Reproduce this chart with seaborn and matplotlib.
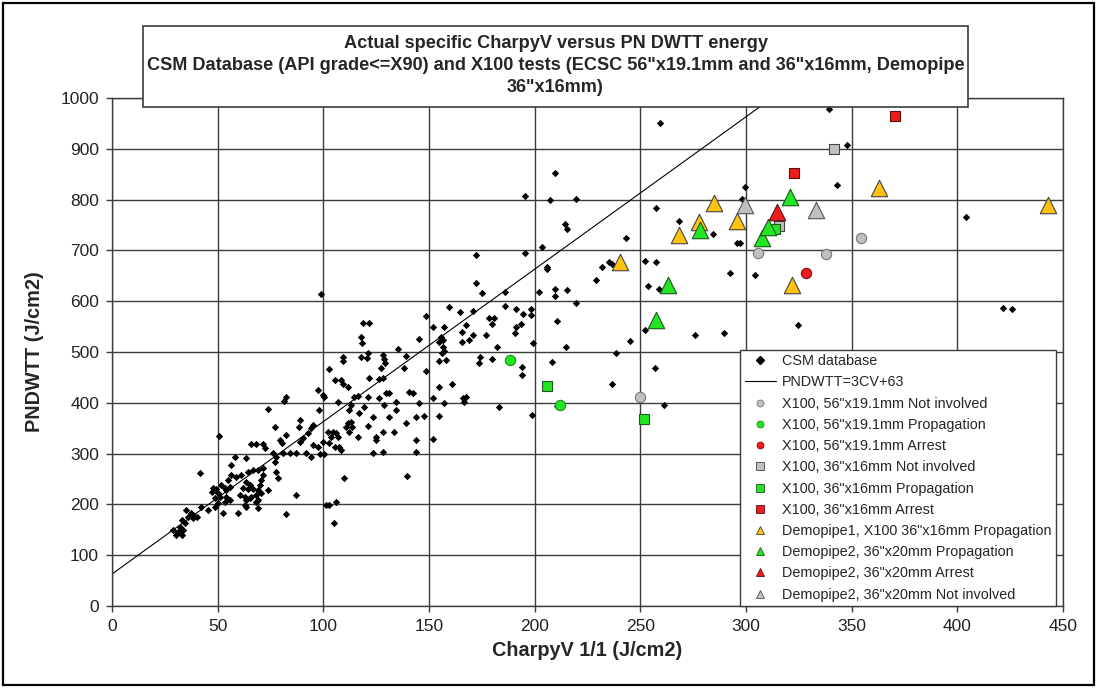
import matplotlib
matplotlib.use("Agg")
import matplotlib.pyplot as plt
from matplotlib.lines import Line2D
from matplotlib.patches import Rectangle
import numpy as np
import seaborn as sns

# CSM database: specific Charpy V energy (J/cm2) and PN DWTT energy (J/cm2)
csm_cv = [
    81.4, 73.8, 88.8, 77.0, 82.5, 92.7, 90.3, 88.8, 79.3, 80.6, 50.7, 66.0, 68.3, 71.4, 72.2,
    76.2, 77.7, 77.0, 80.9, 84.0, 87.2, 92.0, 63.6, 58.1, 56.5, 41.5, 56.5, 58.9, 61.2, 64.4,
    66.7, 69.1, 71.4, 71.4, 70.7, 69.9, 77.7, 78.5, 63.6, 65.1, 66.7, 69.1, 62.0, 64.4, 60.4,
    62.8, 66.0, 68.3, 70.7, 73.8, 54.9, 55.7, 54.1, 51.8, 53.3, 47.8, 49.4, 47.1, 50.2, 51.0,
    48.6, 50.2, 48.6, 54.1, 55.7, 53.3, 63.6, 65.1, 62.8, 63.6, 69.1, 68.3, 69.1, 59.6, 52.6,
    45.5, 42.3, 86.9, 82.1, 35.2, 37.6, 38.4, 36.0, 32.9, 34.5, 32.1, 33.7, 31.3, 30.5, 32.9,
    29.0, 38.4, 40.0, 101.3, 102.9, 105.8, 105.0, 110.0,
    99.0, 118.6, 121.5, 117.9, 118.3, 148.5, 145.4, 135.2, 117.9, 121.0, 120.5, 109.2, 109.5,
    128.1, 128.9, 129.4, 139.1, 138.3, 127.3, 148.5, 102.9, 105.3, 108.4, 109.2, 111.6, 121.8,
    126.5, 128.1, 97.4, 99.8, 100.5, 82.4, 114.7, 116.3, 121.0, 126.5, 129.7, 131.2, 140.4,
    142.3, 106.8, 113.1, 112.3, 119.4, 128.9, 134.4, 134.4, 145.4, 97.9, 117.1, 123.4, 131.2,
    111.6, 113.1, 110.8, 113.6, 112.3, 121.0, 116.3, 124.9, 124.9, 128.1, 133.6, 139.1, 143.8,
    147.8, 143.8, 143.8, 88.7, 95.0, 94.3, 95.0, 99.8, 97.4, 102.1, 104.5, 106.1, 106.8, 103.7,
    102.9, 105.3, 107.6, 108.4, 123.4, 128.1, 94.3, 98.2, 100.5,
    209.5, 195.5, 207.1, 214.2, 215.2, 203.4, 195.5, 172.2, 205.7, 206.0, 172.2, 175.3, 186.0,
    202.1, 209.5, 209.5, 215.5, 159.6, 164.8, 170.9, 186.0, 191.1, 194.7, 198.5, 198.5, 178.5,
    180.9, 179.8, 167.5, 165.6, 151.7, 157.2, 191.1, 193.4, 190.8, 210.8, 170.9, 177.2, 155.7,
    156.5, 154.9, 165.6, 169.0, 182.4, 199.4, 214.7, 156.5, 157.2, 156.1, 154.6, 158.0, 174.2,
    173.5, 179.8, 193.9, 193.9, 208.4, 154.9, 160.9, 151.7, 165.9, 167.5, 166.7, 157.2, 183.2,
    151.7, 139.4, 236.7, 238.3, 257.1, 261.1, 198.9, 154.9, 210.5,
    259.2, 219.7, 257.6, 243.3, 268.2, 284.4, 295.7, 297.3, 299.3, 298.1, 235.1, 236.4, 232.0,
    229.2, 252.4, 257.2, 253.5, 258.7, 292.6, 304.1, 219.7, 276.0, 289.4, 252.1, 244.9,
    339.4, 347.6, 343.2, 404.3, 324.8, 421.6, 425.8,
]
csm_pn = [
    403.5, 387.8, 366.0, 351.7, 336.6, 340.0, 330.0, 323.5, 326.8, 320.2, 334.6, 318.0, 318.0, 318.0, 310.4,
    300.5, 292.6, 284.0, 300.5, 300.5, 300.5, 300.5, 290.7, 292.6, 277.6, 262.5, 257.9, 254.6, 257.9, 264.4,
    267.7, 267.7, 271.0, 257.9, 248.0, 238.2, 264.4, 251.3, 244.7, 238.2, 229.6, 228.3, 231.6, 229.6, 218.5,
    215.2, 215.2, 218.5, 221.8, 228.3, 248.0, 234.9, 228.3, 238.2, 231.6, 231.6, 229.6, 225.0, 221.8, 215.2,
    212.0, 202.0, 195.5, 215.2, 208.7, 205.4, 208.7, 212.0, 198.8, 195.5, 208.7, 205.4, 192.2, 182.4, 182.4,
    189.0, 195.5, 218.5, 180.4, 189.0, 182.4, 172.5, 175.8, 169.3, 162.7, 156.2, 149.6, 146.3, 139.8, 139.8,
    149.6, 179.1, 175.8, 198.8, 198.8, 205.4, 162.8, 251.3,
    613.5, 557.7, 557.7, 528.8, 517.0, 570.8, 524.9, 505.9, 490.8, 498.7, 488.8, 490.8, 482.3,
    494.0, 485.5, 479.0, 492.1, 467.8, 467.8, 462.6, 465.8, 444.9, 444.9, 437.0, 431.7, 448.1,
    446.2, 448.1, 425.2, 415.3, 410.7, 412.0, 410.7, 413.3, 412.0, 408.8, 418.6, 418.6, 421.9,
    418.6, 402.2, 395.6, 385.8, 392.4, 395.6, 402.2, 385.8, 398.9, 385.8, 379.2, 372.7, 372.7,
    359.5, 362.8, 353.0, 353.0, 343.1, 354.3, 333.3, 333.3, 326.7, 343.1, 343.1, 359.5, 372.7,
    374.0, 326.7, 303.8, 353.0, 356.3, 349.7, 316.9, 323.5, 313.6, 343.1, 343.1, 339.9, 333.3, 333.3,
    320.2, 313.6, 313.6, 307.1, 300.5, 303.8, 293.9, 299.2, 299.2,
    851.7, 807.0, 799.2, 751.9, 741.4, 707.3, 695.5, 690.3, 668.0, 662.7, 635.1, 616.8, 617.4,
    617.4, 623.3, 610.9, 622.0, 589.2, 579.4, 581.3, 591.2, 583.9, 574.8, 583.9, 572.8, 566.2,
    566.2, 555.0, 553.1, 540.0, 548.5, 548.5, 549.8, 555.1, 536.7, 561.6, 533.4, 533.4, 530.1,
    523.6, 520.3, 520.3, 523.6, 510.5, 518.3, 510.5, 510.5, 501.9, 497.4, 482.3, 484.2, 490.8,
    477.7, 485.6, 471.1, 454.7, 480.9, 430.4, 437.0, 408.8, 408.8, 410.7, 402.2, 398.9, 392.4,
    328.1, 256.0, 437.0, 498.7, 467.9, 395.7, 376.0, 374.7, 394.5,
    950.1, 800.5, 782.8, 725.0, 757.8, 731.6, 713.9, 713.9, 825.4, 800.5, 677.8, 673.2, 666.6,
    641.7, 679.7, 677.7, 630.5, 624.0, 656.1, 651.5, 595.8, 533.4, 536.7, 543.3, 522.3,
    977.6, 907.4, 828.7, 766.4, 553.1, 585.9, 583.9,
]

# X100 full-scale burst tests
x100_56_none_cv = [249.8, 305.6, 337.9, 354.4]
x100_56_none_pn = [412.0, 694.2, 692.2, 725.0]
x100_56_prop_cv = [188.2, 212.2]
x100_56_prop_pn = [484.2, 394.7]
x100_56_arr_cv = [328.4]
x100_56_arr_pn = [656.1]
x100_36_none_cv = [341.8, 315.5]
x100_36_none_pn = [898.9, 748.0]
x100_36_prop_cv = [206.0, 251.6, 313.5]
x100_36_prop_pn = [432.4, 367.5, 742.0]
x100_36_arr_cv = [370.4, 322.9]
x100_36_arr_pn = [965.2, 851.7]
demo1_prop_cv = [240.6, 268.2, 277.6, 284.7, 295.7, 321.6, 363.0, 442.8]
demo1_prop_pn = [677.8, 730.3, 756.5, 792.6, 758.5, 631.9, 822.1, 789.3]
demo2_prop_cv = [257.2, 263.1, 278.0, 307.8, 310.6, 320.9]
demo2_prop_pn = [563.0, 631.9, 740.1, 725.0, 746.7, 805.7]
demo2_arr_cv = [314.6]
demo2_arr_pn = [776.2]
demo2_none_cv = [299.6, 333.1]
demo2_none_pn = [789.3, 779.5]

# correlation line PNDWTT = 3 CV + 63
line_slope = 3.0
line_intercept = 63.0

x_ticks = list(range(0, 451, 50))
y_ticks = list(range(0, 1001, 100))

title_lines = [
    "Actual specific CharpyV versus PN DWTT energy",
    'CSM Database (API grade<=X90) and X100 tests (ECSC 56"x19.1mm and 36"x16mm, Demopipe',
    '36"x16mm)',
]
legend_labels = [
    "CSM database",
    "PNDWTT=3CV+63",
    'X100, 56"x19.1mm Not involved',
    'X100, 56"x19.1mm Propagation',
    'X100, 56"x19.1mm Arrest',
    'X100, 36"x16mm Not involved',
    'X100, 36"x16mm Propagation',
    'X100, 36"x16mm Arrest',
    'Demopipe1, X100 36"x16mm Propagation',
    'Demopipe2, 36"x20mm Propagation',
    'Demopipe2, 36"x20mm Arrest',
    'Demopipe2, 36"x20mm Not involved',
]

GRAY = "#c0c0c0"
GREEN = "#22e622"
RED = "#ee1c1c"
GOLD = "#ffc20e"

sns.set_theme(style="white")
plt.rcParams["font.family"] = ["Liberation Sans", "DejaVu Sans"]

W, H = 1097, 688
fig = plt.figure(figsize=(W / 100, H / 100), dpi=100)
fig.patch.set_facecolor("white")
ax = fig.add_axes([112 / W, 1 - 606 / H, (1063 - 112) / W, (606 - 98) / H])
renderer = fig.canvas.get_renderer()

# database cloud
sns.scatterplot(x=csm_cv, y=csm_pn, marker="D", s=14, color="black",
                linewidth=0, ax=ax, zorder=3, legend=False)

# regression line up to the top of the plot
line_x = np.array([0.0, (1000 - line_intercept) / line_slope])
sns.lineplot(x=line_x, y=line_slope * line_x + line_intercept, color="black",
             linewidth=0.8, ax=ax, zorder=2, legend=False)

series = [
    (x100_56_none_cv, x100_56_none_pn, "o", GRAY, "#777777", 55),
    (x100_56_prop_cv, x100_56_prop_pn, "o", GREEN, "#1a8a1a", 55),
    (x100_56_arr_cv, x100_56_arr_pn, "o", RED, "#8a1010", 55),
    (x100_36_none_cv, x100_36_none_pn, "s", GRAY, "#444444", 60),
    (x100_36_prop_cv, x100_36_prop_pn, "s", GREEN, "#225522", 60),
    (x100_36_arr_cv, x100_36_arr_pn, "s", RED, "#551111", 60),
    (demo1_prop_cv, demo1_prop_pn, "^", GOLD, "#444444", 140),
    (demo2_prop_cv, demo2_prop_pn, "^", GREEN, "#225522", 140),
    (demo2_arr_cv, demo2_arr_pn, "^", RED, "#551111", 140),
    (demo2_none_cv, demo2_none_pn, "^", GRAY, "#555555", 140),
]
for xs, ys, mk, fc, ec, size in series:
    sns.scatterplot(x=xs, y=ys, marker=mk, s=size, color=fc, edgecolor=ec,
                    linewidth=0.8, ax=ax, zorder=4, legend=False)

ax.set_xlim(0, 450)
ax.set_ylim(0, 1000)
ax.set_xticks(x_ticks)
ax.set_yticks(y_ticks)
ax.grid(True, color="#3c3c3c", linewidth=1.0)
ax.set_axisbelow(True)
for sp in ax.spines.values():
    sp.set_color("#3c3c3c")
    sp.set_linewidth(1.0)
ax.tick_params(axis="both", direction="out", length=4.3, width=1, color="#3c3c3c",
               labelsize=12.5, pad=5, bottom=True, left=True, labelcolor="#222222")


def fitted_size(text, target_px, weight="bold", base=12.0):
    probe = fig.text(0, 0, text, fontsize=base, fontweight=weight)
    width = probe.get_window_extent(renderer).width
    probe.remove()
    return base * target_px / width


ylab = "PNDWTT (J/cm2)"
xlab = "CharpyV 1/1 (J/cm2)"
label_size = fitted_size(ylab, 160)
ax.set_xlabel(xlab, fontsize=label_size, fontweight="bold", va="center")
ax.set_ylabel(ylab, fontsize=label_size, fontweight="bold", va="center")
ax.xaxis.set_label_coords(0.5, (606 - 651) / 508)
ax.yaxis.set_label_coords((35 - 112) / 951, 0.5)

# legend with small markers
handles = [
    Line2D([], [], ls="none", marker="D", ms=3.6, color="black"),
    Line2D([], [], color="black", lw=0.8),
]
for _, _, mk, fc, ec, _ in series:
    ms = {"o": 5.0, "s": 5.5, "^": 6.0}[mk]
    handles.append(Line2D([], [], ls="none", marker=mk, ms=ms, markerfacecolor=fc,
                          markeredgecolor=ec, markeredgewidth=0.6))
leg = ax.legend(handles, legend_labels, loc="lower right", bbox_to_anchor=(0.9926, 0.0),
                borderaxespad=0.0, fontsize=10.4, frameon=True, fancybox=False,
                framealpha=1.0, edgecolor="#3c3c3c", labelspacing=0.5,
                handlelength=2.2, handletextpad=0.4, borderpad=0.3)
leg.get_frame().set_linewidth(1.0)
leg.set_zorder(10)

# title box overlapping the top of the plot
fig.patches.append(Rectangle((143 / W, 1 - 107 / H), (968 - 143) / W, (107 - 26) / H,
                             transform=fig.transFigure, facecolor="white",
                             edgecolor="#3c3c3c", linewidth=1.2, zorder=5))
title_size = fitted_size(title_lines[1], 814)
for line, ypix in zip(title_lines, [44, 66, 88]):
    fig.text(555.5 / W, 1 - ypix / H, line, ha="center", va="center",
             fontsize=title_size, fontweight="bold", zorder=6)

# outer frame of the chart
fig.patches.append(Rectangle((3 / W, 3 / H), (W - 6) / W, (H - 6) / H,
                             transform=fig.transFigure, fill=False,
                             edgecolor="black", linewidth=1.6, zorder=7))

fig.savefig("out.png", dpi=100, facecolor="white")
